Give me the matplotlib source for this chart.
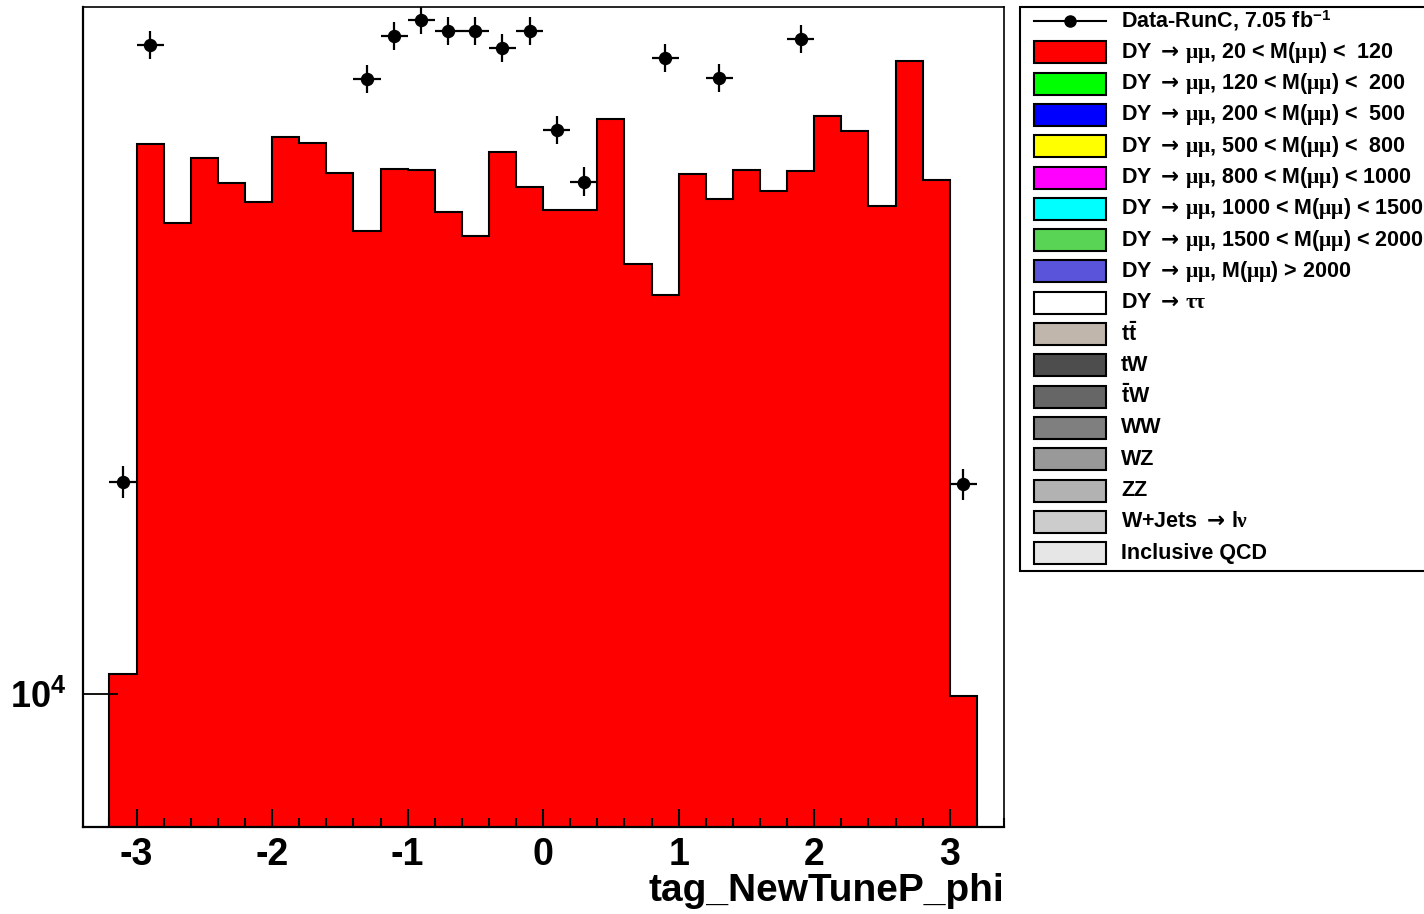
import numpy as np
import matplotlib
matplotlib.use('Agg')
import matplotlib.pyplot as plt
from matplotlib.patches import Rectangle
from matplotlib.ticker import MultipleLocator, NullLocator, FixedLocator

# ---------------------------- DATA --------------------------------#
bin_edges = np.linspace(-3.2, 3.2, 33)

# DY -> mumu, 20 < M < 120 (the only visible stack component)
mc_dy = [10119, 13836, 13202, 13721, 13518, 13367, 13895, 13844,
         13603, 13145, 13630, 13622, 13291, 13104, 13770, 13490,
         13303, 13308, 14041, 12887, 12653, 13595, 13393, 13625,
         13457, 13619, 14069, 13942, 13340, 14529, 13547, 9990]

# data points that fall inside the frame
data_x = [-3.1, -2.9, -1.3, -1.1, -0.9, -0.7, -0.5, -0.3, -0.1,
          0.1, 0.3, 0.9, 1.3, 1.9, 3.1]
data_y = [11335, 14667, 14376, 14748, 14885, 14791, 14791, 14638, 14791,
          13950, 13531, 14557, 14387, 14719, 11317]

legend_labels = [
    r'DY $\rightarrow\,\mu\mu$, 20 < M($\mu\mu$) <  120',
    r'DY $\rightarrow\,\mu\mu$, 120 < M($\mu\mu$) <  200',
    r'DY $\rightarrow\,\mu\mu$, 200 < M($\mu\mu$) <  500',
    r'DY $\rightarrow\,\mu\mu$, 500 < M($\mu\mu$) <  800',
    r'DY $\rightarrow\,\mu\mu$, 800 < M($\mu\mu$) < 1000',
    r'DY $\rightarrow\,\mu\mu$, 1000 < M($\mu\mu$) < 1500',
    r'DY $\rightarrow\,\mu\mu$, 1500 < M($\mu\mu$) < 2000',
    r'DY $\rightarrow\,\mu\mu$, M($\mu\mu$) > 2000',
    r'DY $\rightarrow\,\tau\tau$',
    r'$\mathbf{t\bar{t}}$',
    'tW',
    r'$\mathbf{\bar{t}}$W',
    'WW',
    'WZ',
    'ZZ',
    r'W+Jets $\rightarrow\,$l$\nu$',
    'Inclusive QCD',
]
legend_colors = ['#ff0000', '#00ff00', '#0000ff', '#ffff00', '#ff00ff',
                 '#00ffff', '#59d454', '#5954d9', '#ffffff', '#c0b6ac',
                 '#4d4d4d', '#666666', '#7f7f7f', '#999999', '#b2b2b2',
                 '#cccccc', '#e6e6e6']

# ---------------------------- STYLE --------------------------------#
plt.rcParams.update({
    'font.family': ['Liberation Sans', 'DejaVu Sans'],
    'font.weight': 'bold',
    'mathtext.fontset': 'custom',
    'mathtext.rm': 'DejaVu Sans',
    'mathtext.it': 'Liberation Serif',
    'mathtext.bf': 'Liberation Sans:bold',
    'axes.unicode_minus': False,
})

W, H = 1424, 914
fig = plt.figure(figsize=(W / 100, H / 100), dpi=100)
ax = fig.add_axes([83 / W, 1 - 827 / H, (1004 - 83) / W, (827 - 7) / H])
ax.set_axisbelow(False)

ax.stairs(mc_dy, bin_edges, baseline=1000, fill=True,
          facecolor='#ff0000', edgecolor='none', zorder=1.2)
ax.stairs(mc_dy, bin_edges, baseline=1000, fill=False,
          color='black', linewidth=1.5, zorder=1.4)

ax.errorbar(data_x, data_y, xerr=0.1, yerr=np.sqrt(data_y), fmt='o',
            color='black', markersize=8.6, elinewidth=1.6, capsize=0,
            zorder=4)

ax.set_yscale('log')
ax.set_xlim(-3.395, 3.40)
ax.set_ylim(9245, 15000)

ax.xaxis.set_major_locator(MultipleLocator(1))
ax.xaxis.set_minor_locator(MultipleLocator(0.2))
ax.yaxis.set_major_locator(FixedLocator([1e4]))
ax.yaxis.set_minor_locator(NullLocator())
ax.set_yticklabels([r'$\mathbf{10^{4}}$'])

ax.tick_params(axis='x', which='major', direction='in', length=13, width=1.5,
               labelsize=27, pad=7)
ax.tick_params(axis='x', which='minor', direction='in', length=6.5, width=1.5)
ax.tick_params(axis='y', which='major', direction='in', length=25, width=1.3,
               labelsize=26, pad=12)
for lbl in ax.get_xticklabels():
    lbl.set_fontweight('bold')

for side in ['left', 'bottom']:
    ax.spines[side].set_linewidth(1.6)
for side in ['top', 'right']:
    ax.spines[side].set_linewidth(1.2)

ax.set_xlabel('tag_NewTuneP_phi', fontsize=28, fontweight='bold',
              loc='right', labelpad=0)

# ---------------------------- LEGEND --------------------------------#
lax = fig.add_axes([0, 0, 1, 1])
lax.set_xlim(0, W)
lax.set_ylim(H, 0)
lax.axis('off')
lax.add_patch(Rectangle((1020, 7), 420, 564, facecolor='white',
                        edgecolor='black', linewidth=1.5))

row0, step = 21, 31.3
lax.plot([1034, 1106], [row0, row0], color='black', linewidth=1.5)
lax.plot([1070], [row0], 'o', color='black', markersize=8)
lax.text(1121, row0, r'Data-RunC, 7.05 fb$^{\mathbf{-1}}$', fontsize=15.5,
         fontweight='bold', va='center', ha='left')
for i, (lab, col) in enumerate(zip(legend_labels, legend_colors)):
    yc = row0 + step * (i + 1)
    lax.add_patch(Rectangle((1034, yc - 11), 72, 22, facecolor=col,
                            edgecolor='black', linewidth=1.5))
    lax.text(1121, yc, lab, fontsize=15.5, fontweight='bold',
             va='center', ha='left')

fig.savefig('out.png', dpi=100)
